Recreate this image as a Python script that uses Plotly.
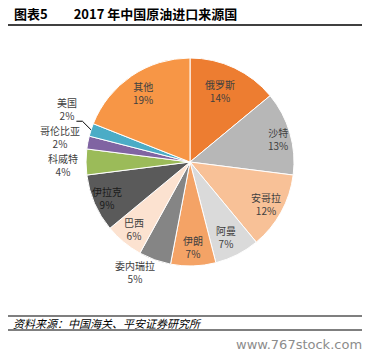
import math
import plotly.graph_objects as go

# ---- data ----
countries = ["俄罗斯", "沙特", "安哥拉", "阿曼", "伊朗", "委内瑞拉", "巴西", "伊拉克",
             "科威特", "哥伦比亚", "美国", "其他"]
shares = [14, 13, 12, 7, 7, 5, 6, 9, 4, 2, 2, 19]
colors = ["#ED7D31", "#B7B7B7", "#F8C197", "#DADADA", "#F4A366", "#858585",
          "#FCE2D0", "#5A5A5A", "#9BBB59", "#8064A2", "#4BACC6", "#F79646"]
title_text = "图表5　　2017 年中国原油进口来源国"
source_text = "资料来源：中国海关、平安证券研究所"
watermark = "www.767stock.com"

OFF = 8  # page body margin in the browser
W, H = 374 - OFF, 355 - OFF
cx, cy, R = 190, 162, 104  # pie centre / radius in screen pixels

# label placement style: radial factor and small pixel nudges
label_r = [0.75, 0.88, 0.83, 0.81, 0.82, 1.18, 0.84, 0.87, 1.22, 1.27, 1.30, 0.80]
nudge_x = [-3, 0, 0, -2, 0, -13, 0, 0, 0, 0, 6, 0]
nudge_y = [0, 3, 0, 0, 0, -5, 0, 0, 3, 0, -11, 0]
label_col = ["#404040"] * 7 + ["#1a1a1a"] + ["#404040"] * 4


def px2paper(x, y):
    return (x - OFF) / W, 1 - (y - OFF) / H


fig = go.Figure()
dx0, dy0 = px2paper(cx - R, cy + R)
dx1, dy1 = px2paper(cx + R, cy - R)
fig.add_trace(go.Pie(
    labels=countries, values=shares, sort=False, direction="clockwise",
    marker=dict(colors=colors, line=dict(color="white", width=1)),
    textinfo="none", hoverinfo="label+percent", showlegend=False,
    domain=dict(x=[dx0, dx1], y=[dy0, dy1]),
))

total = sum(shares)
cum = 0
annotations = []
shapes = []
for name, v, f, nx, ny, tc in zip(countries, shares, label_r, nudge_x, nudge_y, label_col):
    mid = (cum + v / 2) / total * 2 * math.pi
    cum += v
    pct = round(v / total * 100)
    lx = cx + R * f * math.sin(mid) + nx
    ly = cy - R * f * math.cos(mid) + ny
    if name == "美国":
        ex = cx + R * math.sin(mid)
        ey = cy - R * math.cos(mid)
        x0, y0 = px2paper(lx + 9, ly + 12)
        x1, y1 = px2paper(lx + 15, ly + 12)
        x2, y2 = px2paper(ex, ey)
        shapes.append(dict(type="path", xref="paper", yref="paper",
                           path=f"M {x0},{y0} L {x1},{y1} L {x2},{y2}",
                           line=dict(color="black", width=1)))
    ax, ay = px2paper(lx, ly)
    annotations.append(dict(x=ax, y=ay, xref="paper", yref="paper", showarrow=False,
                            xanchor="center", yanchor="middle",
                            text=f"{name}<br>{pct}%", align="center",
                            font=dict(size=10, color=tc, family="Noto Sans CJK SC")))

# title, footer, watermark
tx, ty = px2paper(12, 13)
annotations.append(dict(x=tx, y=ty, xref="paper", yref="paper", showarrow=False,
                        xanchor="left", yanchor="middle", text=f"<b>{title_text}</b>",
                        font=dict(size=13, color="black", family="Noto Sans CJK SC")))
sx, sy = px2paper(11, 323)
annotations.append(dict(x=sx, y=sy, xref="paper", yref="paper", showarrow=False,
                        xanchor="left", yanchor="middle", text=f"<i>{source_text}</i>",
                        font=dict(size=11, color="black", family="Noto Sans CJK SC")))
wx, wy = px2paper(364, 344)
annotations.append(dict(x=wx, y=wy, xref="paper", yref="paper", showarrow=False,
                        xanchor="right", yanchor="middle", text=watermark,
                        font=dict(size=13, color="#8c8c8c", family="DejaVu Sans")))

for yy, wdt in [(2, 1.5), (25, 1.5), (316, 1.2), (330, 1.2)]:
    lx0, ly0 = px2paper(8, yy)
    lx1, _ = px2paper(362, yy)
    shapes.append(dict(type="line", xref="paper", yref="paper",
                       x0=lx0, x1=lx1, y0=ly0, y1=ly0,
                       line=dict(color="black", width=wdt)))

fig.update_layout(width=W, height=H, margin=dict(l=0, r=0, t=0, b=0),
                  paper_bgcolor="white", plot_bgcolor="white",
                  annotations=annotations, shapes=shapes)
fig.write_html("out.html")
